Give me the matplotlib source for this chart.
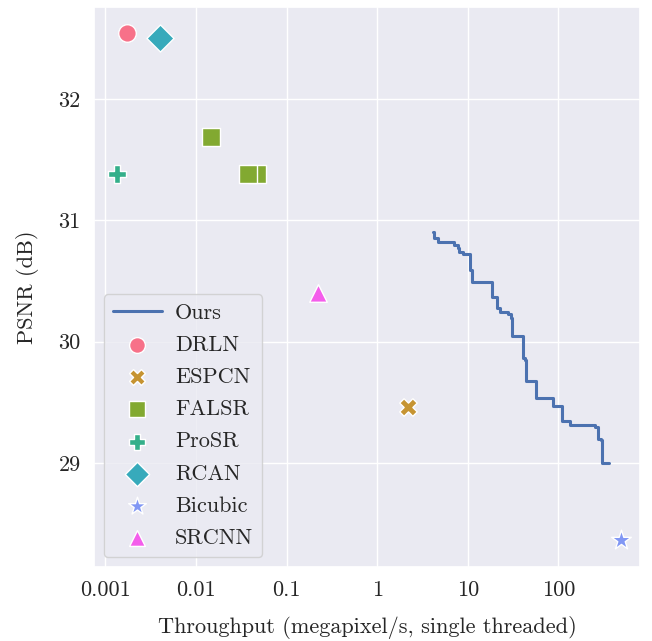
#!/usr/bin/env python3

import numpy as np
import matplotlib
matplotlib.use("Agg")
import matplotlib.pyplot as plt
import seaborn as sns

# ------------------------------------------------------------
# data
# ------------------------------------------------------------
ours_throughput = [4.19, 4.26, 4.69, 7.09, 7.85, 8.05, 8.85, 10.5, 11.1, 11.3,
                   18.7, 21.0, 21.3, 22.9, 28.2, 30.3, 31.0, 40.5, 43.2, 44.3,
                   57.1, 86.5, 108.7, 135.8, 256, 272, 296, 301, 360]
ours_psnr = [30.906, 30.854, 30.819, 30.796, 30.772, 30.739, 30.722, 30.590,
             30.574, 30.494, 30.365, 30.357, 30.277, 30.244, 30.228, 30.195,
             30.050, 29.865, 29.852, 29.679, 29.533, 29.469, 29.350, 29.312,
             29.296, 29.201, 29.189, 29.003, 29.003]

methods = ["DRLN", "ESPCN", "FALSR", "ProSR", "RCAN", "Bicubic", "SRCNN"]
markers = ["o", "X", "s", "P", "D", "*", "^"]
method_throughput = {
    "DRLN": [0.00173],
    "ESPCN": [2.20],
    "FALSR": [0.0147, 0.0472, 0.0376],
    "ProSR": [0.00134],
    "RCAN": [0.0040],
    "Bicubic": [497],
    "SRCNN": [0.223],
}
method_psnr = {
    "DRLN": [32.544],
    "ESPCN": [29.464],
    "FALSR": [31.687, 31.38, 31.38],
    "ProSR": [31.38],
    "RCAN": [32.50],
    "Bicubic": [28.365],
    "SRCNN": [30.40],
}

xticks = [0.001, 0.01, 0.1, 1, 10, 100]
xtick_labels = ["0.001", "0.01", "0.1", "1", "10", "100"]
yticks = [29, 30, 31, 32]


def main():
    sns.set_theme(style="darkgrid")
    plt.rcParams["font.family"] = ["cmr10", "DejaVu Serif"]
    plt.rcParams["mathtext.fontset"] = "cm"
    plt.rcParams["axes.formatter.use_mathtext"] = True

    colors = sns.color_palette("husl", len(methods))

    fig = plt.figure(figsize=(6.52, 6.41), dpi=100)
    ax = fig.add_axes([0.144, 0.1154, 0.838, 0.8736])

    ax.plot(ours_throughput, ours_psnr, drawstyle="steps-post",
            color="#4c72b0", lw=2.2, label="Ours", zorder=3)

    sizes = {"o": 160, "X": 160, "s": 170, "P": 160, "D": 190, "*": 220, "^": 160}
    for m, mk, c in zip(methods, markers, colors):
        ax.scatter(method_throughput[m], method_psnr[m], marker=mk, s=sizes[mk],
                   color=c, edgecolor="white", linewidth=1.0, label=m, zorder=4)

    ax.set_xscale("log")
    ax.set_xlim(7.46e-4, 805)
    ax.set_ylim(28.143, 32.758)
    ax.set_xticks(xticks)
    ax.set_xticklabels(xtick_labels)
    ax.xaxis.set_minor_locator(matplotlib.ticker.NullLocator())
    ax.set_yticks(yticks)
    ax.set_yticklabels([str(v) for v in yticks])
    ax.tick_params(labelsize=16)

    ax.set_xlabel("Throughput (megapixel/s, single threaded)", fontsize=16,
                  labelpad=12)
    ax.set_ylabel("PSNR (dB)", fontsize=16, labelpad=14)

    ax.legend(loc="lower left", bbox_to_anchor=(0.0, 0.0), fontsize=16,
              labelspacing=0.57, markerscale=0.9, borderaxespad=0.45,
              handlelength=2.2, handletextpad=0.6)

    fig.savefig("out.png", dpi=100)


if __name__ == "__main__":
    main()
